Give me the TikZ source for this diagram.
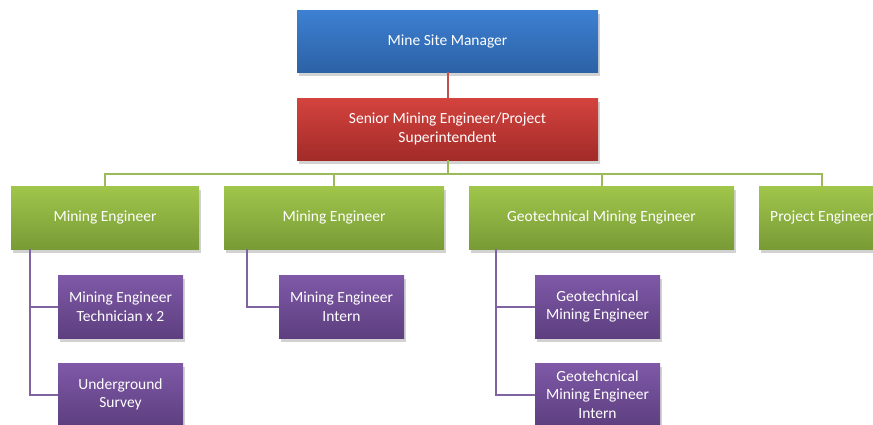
\documentclass[tikz,border=0pt]{standalone}
\usepackage{fontspec}
\setmainfont{Carlito}
\usetikzlibrary{shadows}
\definecolor{bluetop}{HTML}{3D80D2}
\definecolor{bluebot}{HTML}{2C62A6}
\definecolor{redtop}{HTML}{D4433E}
\definecolor{redbot}{HTML}{A22B28}
\definecolor{greentop}{HTML}{A0C64B}
\definecolor{greenbot}{HTML}{789B36}
\definecolor{purptop}{HTML}{7F59A8}
\definecolor{purpbot}{HTML}{5D3F7F}
\definecolor{redln}{HTML}{C0504D}
\definecolor{greenln}{HTML}{9BBB59}
\definecolor{purpln}{HTML}{8064A2}
\tikzset{
  orgbox/.style={rectangle, inner sep=0pt, text=white, align=center,
    font=\fontsize{15.5}{18.5}\selectfont,
    drop shadow={shadow xshift=2pt, shadow yshift=-4pt, opacity=0.25, fill=black!70}},
  bluebox/.style={orgbox, top color=bluetop, bottom color=bluebot, minimum width=301pt, minimum height=62pt},
  redbox/.style={orgbox, top color=redtop, bottom color=redbot, minimum width=301pt, minimum height=62pt},
  greenbox/.style={orgbox, top color=greentop, bottom color=greenbot, minimum height=63pt},
  purpbox/.style={orgbox, top color=purptop, bottom color=purpbot, minimum width=125pt, minimum height=63pt},
  redline/.style={draw=redln, line width=2pt},
  greenline/.style={draw=greenln, line width=2pt},
  purpline/.style={draw=purpln, line width=2pt},
}
\begin{document}
\begin{tikzpicture}[x=1pt,y=-1pt]
\useasboundingbox (0,0) rectangle (873,424);
\clip (0,0) rectangle (873,424);
\fill[white] (0,0) rectangle (873,424);
\coordinate (bus) at (447.5,174);
\coordinate (c1) at (30,249);
\coordinate (c2) at (247,249);
\coordinate (c3) at (496,249);
% nodes
\node[bluebox] (msm) at (447.5,41) {Mine Site Manager};
\node[redbox] (sme) at (447.5,129) {Senior Mining Engineer/Project\\Superintendent};
\node[greenbox, minimum width=188pt] (me1) at (105,217.5) {Mining Engineer};
\node[greenbox, minimum width=220pt] (me2) at (334,217.5) {Mining Engineer};
\node[greenbox, minimum width=265pt] (geo) at (601.5,217.5) {Geotechnical Mining Engineer};
\node[greenbox, minimum width=126pt] (pe) at (822,217.5) {Project Engineer};
\node[purpbox] (t1) at (120.5,306.5) {Mining Engineer\\Technician x 2};
\node[purpbox] (t2) at (120.5,394.5) {Underground\\Survey};
\node[purpbox] (t3) at (341.5,306.5) {Mining Engineer\\Intern};
\node[purpbox] (t4) at (597.5,306.5) {Geotechnical\\Mining Engineer};
\node[purpbox] (t5) at (597.5,394.5) {Geotehcnical\\Mining Engineer\\Intern};
% lines
\draw[redline] (msm.south) -- (sme.north);
\draw[greenline] (sme.south) -- (bus);
\draw[greenline] (me1.north) -- (me1.north |- bus) -- (pe.north |- bus) -- (pe.north);
\draw[greenline] (me2.north) -- (me2.north |- bus);
\draw[greenline] (geo.north) -- (geo.north |- bus);
\draw[purpline] (c1) |- (t1.west);
\draw[purpline] (c1) |- (t2.west);
\draw[purpline] (c2) |- (t3.west);
\draw[purpline] (c3) |- (t4.west);
\draw[purpline] (c3) |- (t5.west);
\end{tikzpicture}
\end{document}
